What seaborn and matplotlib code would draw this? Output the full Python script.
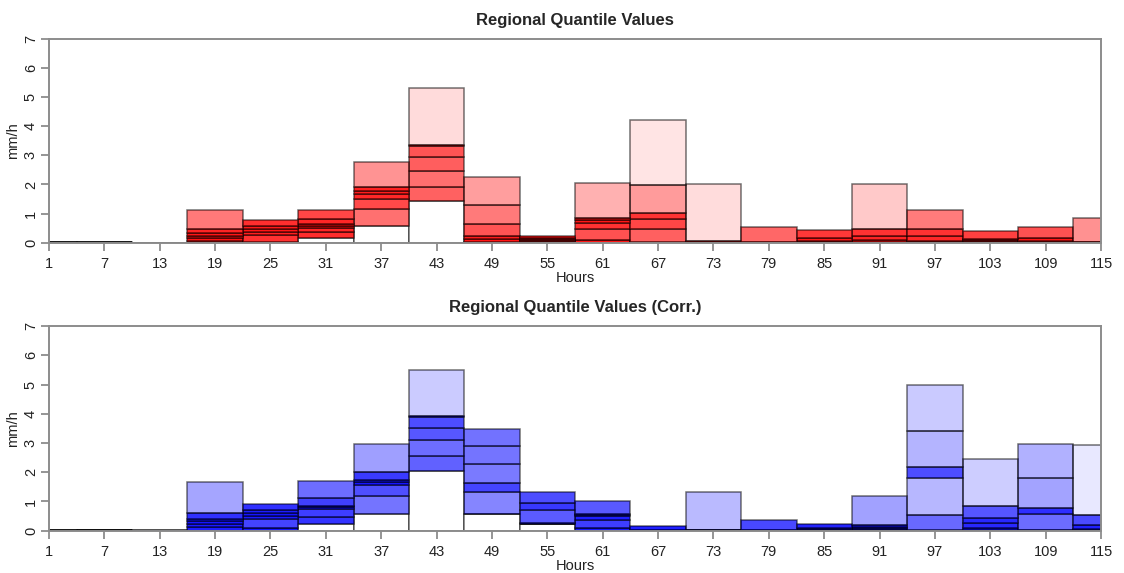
import numpy as np
import matplotlib
matplotlib.use("Agg")
import matplotlib.pyplot as plt
import seaborn as sns

# ---- data -----------------------------------------------------------
hours = [1, 7, 13, 19, 25, 31, 37, 43, 49, 55, 61, 67, 73, 79, 85, 91, 97, 103, 109, 115]

# quantile levels per 6-hour block (lowest level = top of white box)
raw_levels = [
    [0, 0, 0.005, 0.01, 0.01, 0.015, 0.02],
    [0, 0, 0.005, 0.01, 0.015, 0.02, 0.03],
    [0, 0, 0, 0, 0, 0, 0.005],
    [0, 0.07, 0.15, 0.23, 0.32, 0.47, 1.11],
    [0, 0.03, 0.25, 0.38, 0.47, 0.57, 0.77],
    [0.17, 0.36, 0.52, 0.58, 0.64, 0.80, 1.12],
    [0.57, 1.15, 1.49, 1.66, 1.78, 1.92, 2.78],
    [1.42, 1.90, 2.47, 2.93, 3.33, 3.35, 5.31],
    [0, 0.04, 0.12, 0.23, 0.63, 1.28, 2.25],
    [0, 0.02, 0.05, 0.09, 0.12, 0.16, 0.23],
    [0, 0.09, 0.47, 0.69, 0.78, 0.86, 2.05],
    [0, 0.01, 0.48, 0.80, 1.03, 1.97, 4.20],
    [0, 0.01, 0.02, 0.03, 0.04, 0.05, 2.03],
    [0, 0, 0, 0.005, 0.01, 0.015, 0.53],
    [0, 0.01, 0.02, 0.04, 0.07, 0.17, 0.42],
    [0, 0.01, 0.03, 0.09, 0.24, 0.46, 2.01],
    [0, 0.01, 0.03, 0.07, 0.24, 0.46, 1.12],
    [0, 0.01, 0.02, 0.05, 0.08, 0.12, 0.41],
    [0, 0.01, 0.02, 0.04, 0.07, 0.15, 0.53],
    [0, 0, 0.005, 0.01, 0.015, 0.02, 0.86],
]

corr_levels = [
    [0, 0, 0.005, 0.01, 0.01, 0.015, 0.02],
    [0, 0, 0.01, 0.015, 0.02, 0.025, 0.04],
    [0, 0, 0, 0.005, 0.005, 0.01, 0.01],
    [0, 0.12, 0.23, 0.32, 0.41, 0.62, 1.66],
    [0, 0.08, 0.39, 0.50, 0.59, 0.71, 0.92],
    [0.23, 0.46, 0.74, 0.80, 0.84, 1.13, 1.69],
    [0.58, 1.19, 1.56, 1.65, 1.74, 2.00, 2.98],
    [2.06, 2.54, 3.10, 3.52, 3.88, 3.91, 5.50],
    [0.58, 0.58, 1.32, 1.63, 2.28, 2.89, 3.48],
    [0.24, 0.24, 0.24, 0.27, 0.71, 0.96, 1.32],
    [0, 0.09, 0.37, 0.50, 0.54, 0.57, 1.00],
    [0, 0.005, 0.01, 0.015, 0.02, 0.02, 0.15],
    [0, 0.005, 0.01, 0.015, 0.02, 0.02, 1.33],
    [0, 0, 0.005, 0.01, 0.015, 0.02, 0.35],
    [0, 0.01, 0.02, 0.04, 0.06, 0.08, 0.23],
    [0, 0.02, 0.06, 0.10, 0.14, 0.20, 1.20],
    [0, 0.01, 0.54, 1.81, 2.17, 3.40, 4.98],
    [0, 0.03, 0.08, 0.25, 0.42, 0.83, 2.46],
    [0, 0.01, 0.02, 0.57, 0.77, 1.79, 2.98],
    [0, 0.01, 0.02, 0.05, 0.18, 0.53, 2.95],
]

x_ticks = [1, 7, 13, 19, 25, 31, 37, 43, 49, 55, 61, 67, 73, 79, 85, 91, 97, 103, 109, 115]
y_ticks = [0, 1, 2, 3, 4, 5, 6, 7]
titles = ["Regional Quantile Values", "Regional Quantile Values (Corr.)"]

# ---- style ----------------------------------------------------------
sns.set_theme(style="ticks")
plt.rcParams["font.family"] = ["Liberation Sans", "DejaVu Sans"]

fig = plt.figure(figsize=(11.24, 5.73), dpi=100)
ax1 = fig.add_axes([0.0436, 0.5764, 0.936, 0.356])
ax2 = fig.add_axes([0.0436, 0.0738, 0.936, 0.357])

edge = (0, 0, 0, 0.55)
gray = "#8c8c8c"
fs = 10.5


def draw(ax, levels, rgb, title):
    lv = np.array(levels, dtype=float)
    # white box from 0 to lowest level
    ax.bar(hours, lv[:, 0], width=6, bottom=0, color="white",
           edgecolor=edge, linewidth=1.1, zorder=2)
    for i in range(1, lv.shape[1]):
        bottoms = lv[:, i - 1]
        heights = lv[:, i] - lv[:, i - 1]
        alphas = np.exp(-heights)
        cols = [(rgb[0], rgb[1], rgb[2], a) for a in alphas]
        ax.bar(hours, heights, width=6, bottom=bottoms, color=cols,
               edgecolor=edge, linewidth=1.1, zorder=2)
    ax.set_xlim(1, 115)
    ax.set_ylim(0, 7)
    ax.set_xticks(x_ticks)
    ax.set_yticks(y_ticks)
    ax.set_xticklabels([str(t) for t in x_ticks], fontsize=fs, color="#222222")
    ax.set_yticklabels([str(t) for t in y_ticks], fontsize=fs, color="#222222",
                       rotation=90, va="center")
    ax.tick_params(axis="both", length=6, width=1.3, color=gray)
    ax.tick_params(axis="x", pad=4)
    ax.tick_params(axis="y", pad=2)
    for s in ax.spines.values():
        s.set_color(gray)
        s.set_linewidth(1.4)
    ax.set_xlabel("Hours", fontsize=fs, labelpad=0, color="#222222")
    ax.set_ylabel("mm/h", fontsize=fs, labelpad=3, color="#222222")
    ax.set_title(title, fontsize=12, fontweight="bold", pad=10)


draw(ax1, raw_levels, (1.0, 0.0, 0.0), titles[0])
draw(ax2, corr_levels, (0.0, 0.0, 1.0), titles[1])

fig.savefig("out.png", dpi=100)
